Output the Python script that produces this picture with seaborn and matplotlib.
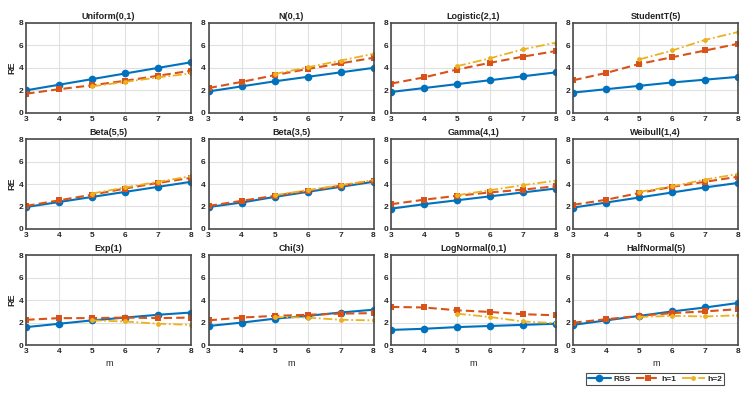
import matplotlib
matplotlib.use('Agg')
import matplotlib.pyplot as plt
import pandas as pd
import seaborn as sns

# values
m_all = [3, 4, 5, 6, 7, 8]
m_h2 = [5, 6, 7, 8]

titles = ['Uniform(0,1)', 'N(0,1)', 'Logistic(2,1)', 'StudentT(5)',
          'Beta(5,5)', 'Beta(3,5)', 'Gamma(4,1)', 'Weibull(1,4)',
          'Exp(1)', 'Chi(3)', 'LogNormal(0,1)', 'HalfNormal(5)']

rss = [[2.0, 2.5, 3.0, 3.5, 4.0, 4.5],
       [1.9, 2.35, 2.8, 3.2, 3.6, 4.0],
       [1.85, 2.2, 2.55, 2.9, 3.25, 3.6],
       [1.8, 2.1, 2.4, 2.7, 2.95, 3.2],
       [1.95, 2.4, 2.85, 3.3, 3.75, 4.2],
       [1.95, 2.35, 2.85, 3.3, 3.75, 4.2],
       [1.8, 2.2, 2.55, 2.9, 3.25, 3.6],
       [1.9, 2.35, 2.8, 3.25, 3.7, 4.1],
       [1.6, 1.9, 2.2, 2.45, 2.7, 2.9],
       [1.7, 2.0, 2.35, 2.6, 2.9, 3.15],
       [1.35, 1.45, 1.6, 1.7, 1.8, 1.9],
       [1.8, 2.2, 2.6, 3.0, 3.35, 3.75]]

h1 = [[1.7, 2.1, 2.45, 2.85, 3.3, 3.75],
      [2.2, 2.75, 3.35, 3.9, 4.4, 4.9],
      [2.6, 3.15, 3.85, 4.45, 5.0, 5.5],
      [2.9, 3.55, 4.35, 4.95, 5.55, 6.15],
      [2.05, 2.55, 3.05, 3.6, 4.1, 4.55],
      [2.05, 2.5, 2.95, 3.4, 3.85, 4.3],
      [2.2, 2.6, 2.95, 3.25, 3.5, 3.8],
      [2.15, 2.6, 3.2, 3.75, 4.2, 4.65],
      [2.25, 2.4, 2.4, 2.45, 2.4, 2.45],
      [2.2, 2.45, 2.6, 2.7, 2.8, 2.85],
      [3.4, 3.35, 3.1, 2.95, 2.75, 2.65],
      [2.0, 2.3, 2.6, 2.85, 3.0, 3.2]]

h2 = [[2.35, 2.75, 3.15, 3.5],
      [3.45, 4.05, 4.65, 5.25],
      [4.15, 4.85, 5.65, 6.25],
      [4.75, 5.55, 6.5, 7.2],
      [3.15, 3.7, 4.2, 4.7],
      [3.0, 3.45, 3.9, 4.35],
      [3.0, 3.45, 3.9, 4.3],
      [3.3, 3.8, 4.4, 4.9],
      [2.2, 2.1, 1.9, 1.8],
      [2.5, 2.45, 2.25, 2.2],
      [2.8, 2.5, 2.1, 1.95],
      [2.5, 2.6, 2.55, 2.65]]

sns.set_theme(style='whitegrid')
plt.rcParams['font.family'] = ['Liberation Sans', 'DejaVu Sans']

blue, orange, yellow = '#0072BD', '#D95319', '#EDB120'

fig, axes = plt.subplots(3, 4, figsize=(7.51, 3.93), dpi=100)
fig.subplots_adjust(left=0.035, right=0.983, top=0.9415, bottom=0.122,
                    wspace=0.106, hspace=0.294)

for i, ax in enumerate(axes.flat):
    df = pd.DataFrame({'m': m_all, 'rss': rss[i], 'h1': h1[i]})
    df2 = pd.DataFrame({'m': m_h2, 'h2': h2[i]})
    sns.lineplot(data=df, x='m', y='rss', ax=ax, color=blue, lw=1.5,
                 marker='o', markersize=5.5, markeredgewidth=0, label='RSS')
    sns.lineplot(data=df, x='m', y='h1', ax=ax, color=orange, lw=1.5,
                 linestyle=(0, (4, 2)), marker='s', markersize=5,
                 markeredgewidth=0, label='h=1')
    sns.lineplot(data=df2, x='m', y='h2', ax=ax, color=yellow, lw=1.3,
                 linestyle=(0, (5, 1.5, 1, 1.5)), marker='o', markersize=3.5,
                 markeredgewidth=0, label='h=2')
    ax.get_legend().remove()
    ax.set_xlim(3, 8)
    ax.set_ylim(0, 8)
    ax.set_xticks(m_all)
    ax.set_yticks([0, 2, 4, 6, 8])
    ax.tick_params(labelsize=6, length=0, pad=2, colors='#262626')
    for lab in ax.get_xticklabels() + ax.get_yticklabels():
        lab.set_fontweight('bold')
    ax.grid(True, color='#e0e0e0', lw=0.8)
    for s in ax.spines.values():
        s.set_color('#4a4a4a')
        s.set_linewidth(1.2)
    ax.set_title(titles[i], fontsize=6.5, fontweight='bold', pad=3,
                 color='#222222')
    ax.set_ylabel('RE' if i % 4 == 0 else '', fontsize=6.5,
                  fontweight='bold', labelpad=2)
    ax.set_xlabel('m' if i >= 8 else '', fontsize=6.5, labelpad=3)

handles, labels = axes.flat[0].get_legend_handles_labels()
leg = fig.legend(handles, labels, loc='center', ncol=3,
                 bbox_to_anchor=(655 / 751, 1 - 379 / 393), fontsize=6,
                 frameon=True, fancybox=False, handlelength=2.8,
                 columnspacing=0.6, handletextpad=0.3, borderpad=0.2)
leg.get_frame().set_edgecolor('#222222')
leg.get_frame().set_linewidth(0.8)
for t in leg.get_texts():
    t.set_fontweight('bold')

fig.savefig('out.png', dpi=100)
